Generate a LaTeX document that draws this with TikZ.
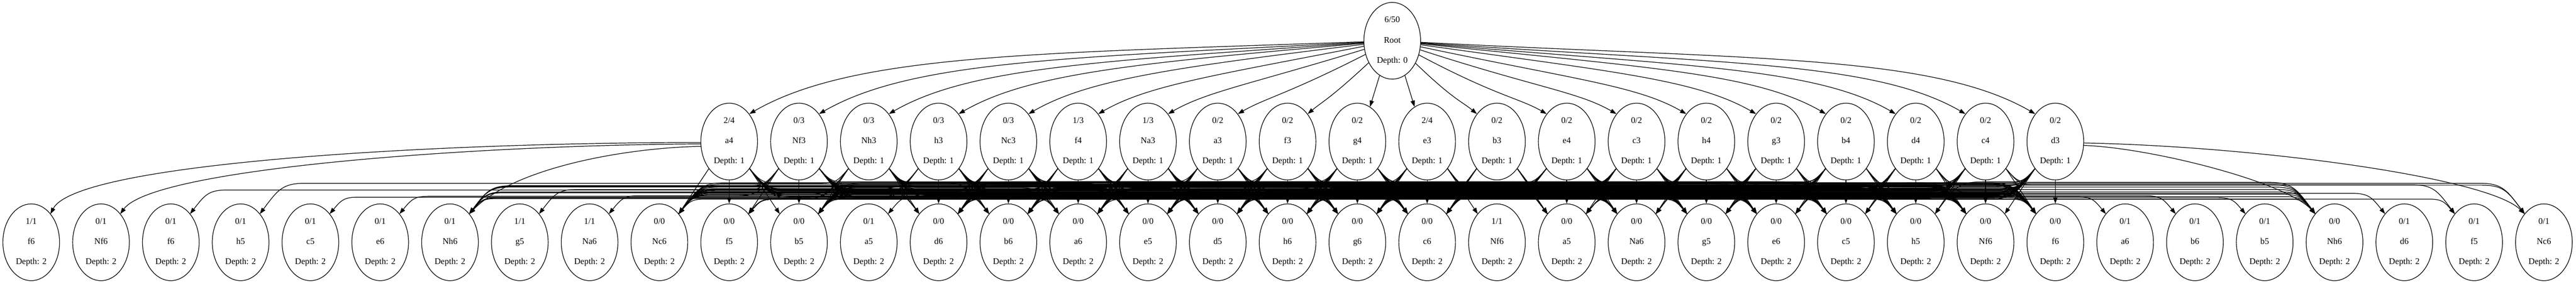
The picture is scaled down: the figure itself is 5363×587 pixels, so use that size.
\documentclass[tikz,border=0pt]{standalone}
\usepackage{fontspec}
\setmainfont{Liberation Serif}
\usetikzlibrary{shapes.geometric,arrows.meta,calc}
\tikzset{
  tnode/.style={ellipse, draw, line width=1.3pt, minimum width=118pt, minimum height=160pt,
    inner sep=0pt, align=center, font=\fontsize{18}{42}\selectfont},
  ed/.style={line width=1.3pt, -{Triangle[length=13pt,width=9pt]}}
}
\newcommand\setov[3]{\expandafter\def\csname ov-#1-#2\endcsname{#3}}
\newcommand\setsp[2]{\expandafter\def\csname sp-#1-#2\endcsname{}}
% visited children (parent column, column of the 0/0 node of that move, visited node column)
\setov{10}{29}{0}\setov{10}{28}{1}\setov{10}{33}{6}
\setov{11}{33}{6}\setov{11}{29}{2}
\setov{12}{33}{6}\setov{12}{27}{3}
\setov{13}{33}{6}\setov{13}{26}{4}
\setov{14}{33}{6}\setov{14}{25}{5}
\setov{15}{33}{6}\setov{15}{24}{7}
\setov{16}{33}{6}\setov{16}{23}{8}
\setov{17}{33}{6}\setov{18}{33}{6}\setov{19}{33}{6}
\setov{20}{33}{6}\setov{20}{28}{21}\setov{20}{22}{12}
\setov{21}{10}{35}\setov{22}{9}{36}\setov{23}{9}{36}
\setov{24}{15}{30}\setov{25}{14}{31}\setov{26}{11}{32}
\setov{27}{13}{34}\setov{28}{10}{35}\setov{29}{9}{36}
% edges drawn separately
\setsp{10}{29}\setsp{10}{28}\setsp{10}{33}\setsp{29}{33}\setsp{29}{9}
\newcommand\bandedge[2]{%
  \pgfmathtruncatemacro\dd{#2-#1}%
  \ifnum\dd=0
    \draw[ed] (d1-#1.south) -- (d2-#2.north);%
  \else
    \ifnum\dd>0 \def\sg{1}\else\def\sg{-1}\fi
    \pgfmathsetmacro\sxa{(\sg)*42}%
    \pgfmathsetmacro\sxb{-(\sg)*40}%
    \ifnum\dd=1 \draw[ed] ($(d1-#1.center)+(\sxa,-56)$) -- ($(d2-#2.center)+(\sxb,59)$);%
    \else\ifnum\dd=-1 \draw[ed] ($(d1-#1.center)+(\sxa,-56)$) -- ($(d2-#2.center)+(\sxb,59)$);%
    \else
      \pgfmathtruncatemacro\yb{379+mod(7*#1+11*#2+3*#1*#2,37)}%
      \pgfmathsetmacro\xS{65+145.31*#1+\sxa}%
      \pgfmathsetmacro\xE{65+145.31*#2+\sxb}%
      \pgfmathsetmacro\aA{1.25*(\yb-351)+15}%
      \pgfmathsetmacro\aB{1.25*(446-\yb)+15}%
      \pgfmathsetmacro\mAx{\xS+(\sg)*\aA}%
      \pgfmathsetmacro\mBx{\xE-(\sg)*\aB}%
      \pgfmathsetmacro\cAx{\xS+(\sg)*0.4*\aA}%
      \pgfmathsetmacro\cAy{-(351+0.8*(\yb-351))}%
      \pgfmathsetmacro\cBx{\mAx-(\sg)*0.5*\aA}%
      \pgfmathsetmacro\cCx{\mBx+(\sg)*0.5*\aB}%
      \pgfmathsetmacro\cDx{\xE-(\sg)*0.4*\aB}%
      \pgfmathsetmacro\cDy{-(446-0.8*(446-\yb))}%
      \draw[ed] ($(d1-#1.center)+(\sxa,-56)$) .. controls (\cAx,\cAy) and (\cBx,-\yb) .. (\mAx,-\yb)
        -- (\mBx,-\yb) .. controls (\cCx,-\yb) and (\cDx,\cDy) .. ($(d2-#2.center)+(\sxb,59)$);%
    \fi\fi
  \fi}
\begin{document}
\begin{tikzpicture}[x=1pt,y=1pt]
\useasboundingbox (0,0) rectangle (5363,-587);
\node[tnode] (root) at (2898.5,-85) {6/50\\Root\\Depth: 0};
\foreach \k/\w/\n/\mv in {10/2/4/a4, 11/0/3/Nf3, 12/0/3/Nh3, 13/0/3/h3, 14/0/3/Nc3,
  15/1/3/f4, 16/1/3/Na3, 17/0/2/a3, 18/0/2/f3, 19/0/2/g4, 20/2/4/e3, 21/0/2/b3,
  22/0/2/e4, 23/0/2/c3, 24/0/2/h4, 25/0/2/g3, 26/0/2/b4, 27/0/2/d4, 28/0/2/c4, 29/0/2/d3}
  {\node[tnode] (d1-\k) at ({65+145.31*\k},-295) {\w/\n\\\mv\\Depth: 1};}
\foreach \k/\w/\n/\mv in {0/1/1/f6, 1/0/1/Nf6, 2/0/1/f6, 3/0/1/h5, 4/0/1/c5, 5/0/1/e6,
  6/0/1/Nh6, 7/1/1/g5, 8/1/1/Na6, 9/0/0/Nc6, 10/0/0/f5, 11/0/0/b5, 12/0/1/a5, 13/0/0/d6,
  14/0/0/b6, 15/0/0/a6, 16/0/0/e5, 17/0/0/d5, 18/0/0/h6, 19/0/0/g6, 20/0/0/c6, 21/1/1/Nf6,
  22/0/0/a5, 23/0/0/Na6, 24/0/0/g5, 25/0/0/e6, 26/0/0/c5, 27/0/0/h5, 28/0/0/Nf6, 29/0/0/f6,
  30/0/1/a6, 31/0/1/b6, 32/0/1/b5, 33/0/0/Nh6, 34/0/1/d6, 35/0/1/f5, 36/0/1/Nc6}
  {\node[tnode] (d2-\k) at ({65+145.31*\k},-505) {\w/\n\\\mv\\Depth: 2};}
% root edges
\foreach \k in {10,...,29}{
  \pgfmathsetmacro\mm{abs(\k-19.5)}
  \pgfmathsetmacro\rphi{2+68*exp(-(\mm-0.5)/2)}
  \ifnum\k<20
    \pgfmathtruncatemacro\ang{180+\rphi}
    \def\ea{54}\def\al{30}
    \ifnum\k=19 \def\ea{70}\fi
    \ifnum\k=18 \def\al{40}\fi
  \else
    \pgfmathtruncatemacro\ang{360-\rphi}
    \def\ea{126}\def\al{150}
    \ifnum\k=20 \def\ea{110}\fi
    \ifnum\k=21 \def\al{140}\fi
  \fi
  \pgfmathsetmacro\dA{0.5*145.31*\mm}
  \pgfmathsetmacro\dB{0.18*145.31*\mm}
  \ifnum\k=19 \draw[ed] (root.\ang) -- (d1-\k.\ea);
  \else\ifnum\k=20 \draw[ed] (root.\ang) -- (d1-\k.\ea);
  \else \draw[ed] (root.\ang) .. controls +(\ang:\dA pt) and +(\al:\dB pt) .. (d1-\k.\ea);
  \fi\fi
}
% depth 1 -> depth 2 edges
\foreach \pp in {10,...,29}{
  \foreach \cc in {9,10,11,13,14,15,16,17,18,19,20,22,23,24,25,26,27,28,29,33}{
    \ifcsname sp-\pp-\cc\endcsname\else
      \ifcsname ov-\pp-\cc\endcsname\edef\tgt{\csname ov-\pp-\cc\endcsname}\else\edef\tgt{\cc}\fi
      \bandedge{\pp}{\tgt}%
    \fi
  }
}
% side edges
\draw[ed] ($(d1-10.center)+(-59,-2)$) .. controls (900,-297) and (160,-340) .. ($(d2-0.center)+(40,59)$);
\draw[ed] ($(d1-10.center)+(-59,-5)$) .. controls (1000,-302) and (320,-350) .. ($(d2-1.center)+(40,59)$);
\draw[ed] ($(d1-10.center)+(-58,-10)$) .. controls (1300,-308) and (1070,-350) .. ($(d2-6.center)+(40,59)$);
\draw[ed] ($(d1-29.center)+(59,-3)$) .. controls (4700,-305) and (5180,-370) .. ($(d2-36.center)+(-40,59)$);
\draw[ed] ($(d1-29.center)+(58,-8)$) .. controls (4480,-308) and (4760,-380) .. ($(d2-33.center)+(-40,59)$);
\end{tikzpicture}
\end{document}
